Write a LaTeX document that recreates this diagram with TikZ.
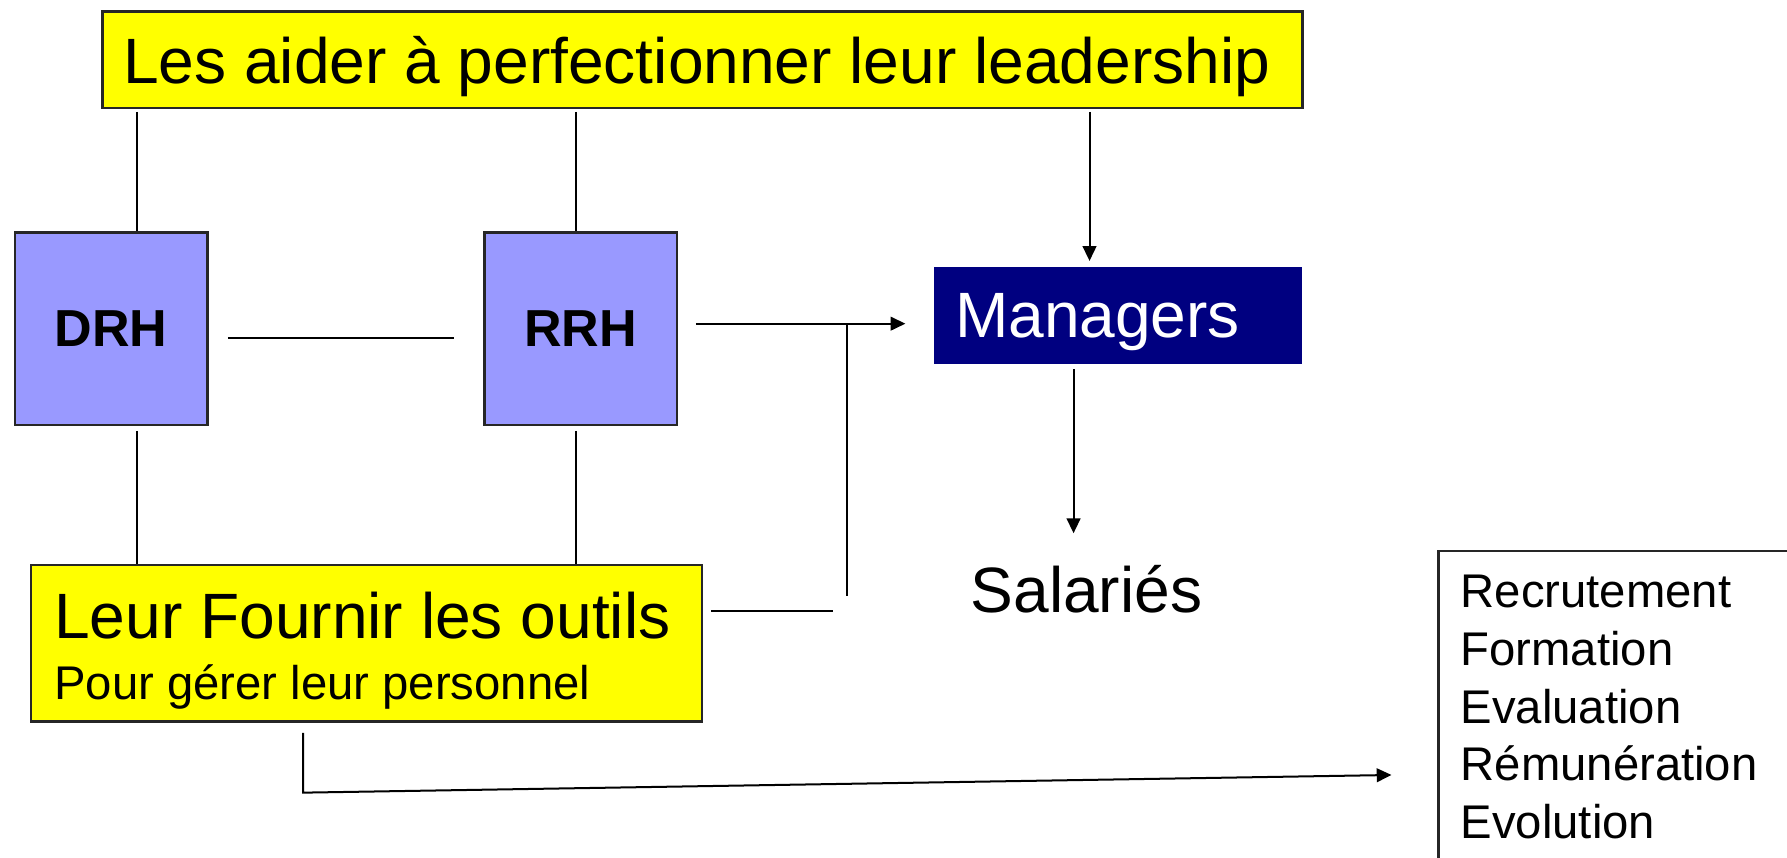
\documentclass[tikz,border=0pt]{standalone}
\usepackage{fontspec}
\setmainfont{Liberation Sans}
\usetikzlibrary{arrows.meta}

\definecolor{jauneboite}{HTML}{FFFF00}
\definecolor{bleuclair}{HTML}{9999FF}
\definecolor{bleunuit}{HTML}{000080}

\newcommand{\tailleA}{\fontsize{16}{19}\selectfont}
\newcommand{\tailleB}{\fontsize{11.8}{14.4}\selectfont}
\newcommand{\tailleC}{\fontsize{13}{15}\selectfont\bfseries}

\tikzset{
  boite/.style={draw=black!85, line width=0.6pt, inner sep=0pt, text depth=0pt},
  ligne/.style={line width=0.5pt},
  fleche/.style={line width=0.5pt, -{Triangle[length=1.3mm,width=1.2mm]}},
}

\begin{document}
\begin{tikzpicture}[x=0.1mm, y=-0.1mm]

            \useasboundingbox (0,0) rectangle (1568,752);
            \clip (0,0) rectangle (1568,752);

            \node[boite, fill=jauneboite, minimum width=105.3mm, minimum height=8.5mm, inner xsep=1.8mm, font=\tailleA] (objectif) at (616.5,52.5) {\makebox[101.7mm][l]{Les aider à perfectionner leur leadership}};

            \node[boite, fill=bleuclair, minimum size=16.9mm, font=\tailleC] (drh) at (97.5,288.5) {DRH};
            \node[boite, fill=bleuclair, minimum size=16.9mm, font=\tailleC] (rrh) at (509.5,288.5) {RRH};

            \node[boite, draw=none, fill=bleunuit, text=white, minimum width=32.25mm, minimum height=8.45mm, inner xsep=1.85mm, font=\tailleA] (managers) at (980.75,276.75) {\makebox[28.55mm][l]{Managers}};
            \node[anchor=base west, inner sep=0pt, font=\tailleA] (salaries) at (851,537) {Salariés};

            \node[boite, fill=jauneboite, minimum width=58.9mm, minimum height=13.7mm] (outils) at (321.5,564.5) {};
            \node[anchor=base west, inner sep=0pt, font=\tailleA] (fournir) at (47,560) {Leur Fournir les outils};
            \node[anchor=base west, inner sep=0pt, font=\tailleB] (gerer) at (47,613.6) {Pour gérer leur personnel};

            \node[boite, anchor=north west, minimum width=50mm, minimum height=40mm] (cadre) at (1261,482.5) {};
            \node[anchor=north west, inner sep=0pt, align=left, font=\tailleB] (taches) at (1281,504) {Recrutement\\Formation\\Evaluation\\Rémunération\\Evolution};

            % reperes des liaisons
            \coordinate (xd) at (120,0);
            \coordinate (xr) at (505,0);
            \coordinate (xm) at (956,0);
            \coordinate (xs) at (942,0);
            \coordinate (yl) at (0,297);
            \coordinate (ya) at (0,284);
            \coordinate (yo) at (0,536);
            \coordinate (jonction) at (743,284);
            \coordinate (bas) at (743,523);
            \coordinate (finA) at (730.5,536);
            \coordinate (coude) at (266,695.5);
            \coordinate (pointe) at (1221,680);

            \draw[ligne, shorten <=0.2mm] (xd |- objectif.south) -- (xd |- drh.north);
            \draw[ligne, shorten <=0.2mm] (xr |- objectif.south) -- (xr |- rrh.north);
            \draw[fleche, shorten <=0.2mm, shorten >=0.45mm] (xm |- objectif.south) -- (xm |- managers.north);

            \draw[ligne, shorten <=1.7mm, shorten >=2.6mm] (drh.east |- yl) -- (rrh.west |- yl);
            \draw[fleche, shorten <=1.55mm, shorten >=2.4mm] (rrh.east |- ya) -- (managers.west |- ya);
            \draw[ligne] (jonction) -- (bas);
            \draw[ligne, shorten <=0.7mm] (outils.east |- yo) -- (finA);

            \draw[fleche, shorten <=0.4mm, shorten >=2.7mm] (xs |- managers.south) -- (xs |- salaries.north);

            \draw[ligne, shorten <=0.4mm] (xd |- drh.south) -- (xd |- outils.north);
            \draw[ligne, shorten <=0.4mm] (xr |- rrh.south) -- (xr |- outils.north);
            \draw[fleche, shorten <=0.9mm] (coude |- outils.south) -- (coude) -- (pointe);

        \end{tikzpicture}
\end{document}
